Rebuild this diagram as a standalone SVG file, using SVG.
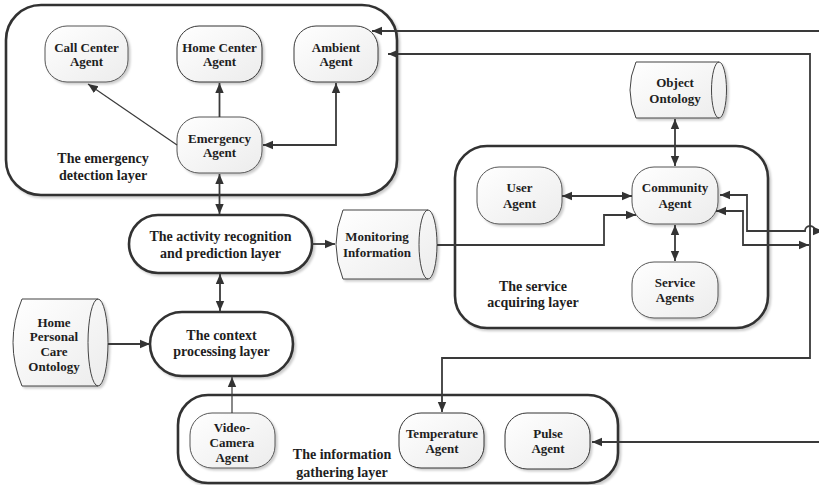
<svg xmlns="http://www.w3.org/2000/svg" width="819" height="485" viewBox="0 0 819 485">
  <style>
    .txt { font-family: "Liberation Serif", "Times New Roman", serif; font-weight: bold; fill: #1e1e1e; text-anchor: middle; }
    .agent-t { font-size: 13px; }
    .layer-t { font-size: 14px; }
    .layer { fill: #ffffff; stroke: #333333; stroke-width: 2.6; }
    .agent { fill: url(#agentFill); stroke: #555555; stroke-width: 1; filter: url(#shadow); }
    .store { fill: url(#agentFill); stroke: #444444; stroke-width: 1; filter: url(#shadow); }
    .store-line { fill: none; stroke: #444444; stroke-width: 1; }
    .conn { fill: none; stroke: #3a3a3a; stroke-width: 1.8; }
    .thin { stroke-width: 1.2; }
  </style>
  <defs>
    <linearGradient id="agentFill" x1="0" y1="0" x2="1" y2="1">
      <stop offset="0" stop-color="#ffffff"/>
      <stop offset="1" stop-color="#ececec"/>
    </linearGradient>
    <filter id="shadow" x="-10%" y="-10%" width="130%" height="130%">
      <feDropShadow dx="2" dy="2" stdDeviation="1" flood-color="#000000" flood-opacity="0.2"/>
    </filter>
    <marker id="arrow" viewBox="0 0 10 10" refX="10" refY="5" markerWidth="10" markerHeight="10" markerUnits="userSpaceOnUse" orient="auto-start-reverse">
      <path d="M0,0.8 L10,5 L0,9.2 Z" fill="#333333"/>
    </marker>
  </defs>

  <!-- layer containers -->
  <g id="emergency-layer">
    <rect class="layer" x="6" y="5" width="391" height="190" rx="35" ry="35" filter="url(#shadow)"/>
    <text class="txt layer-t" x="103" y="163">The emergency</text>
    <text class="txt layer-t" x="103" y="180">detection layer</text>
  </g>
  <g id="service-layer">
    <rect class="layer" x="455" y="146" width="313" height="182" rx="32" ry="32" filter="url(#shadow)"/>
    <text class="txt layer-t" x="533" y="291">The service</text>
    <text class="txt layer-t" x="533" y="307">acquiring layer</text>
  </g>
  <g id="information-layer">
    <rect class="layer" x="178" y="395" width="440" height="88" rx="30" ry="30" filter="url(#shadow)"/>
    <text class="txt layer-t" x="342" y="459">The information</text>
    <text class="txt layer-t" x="342" y="477">gathering layer</text>
  </g>
  <g id="activity-layer">
    <rect class="layer" x="129" y="215" width="183" height="58" rx="29" ry="29" filter="url(#shadow)"/>
    <text class="txt layer-t" x="220.5" y="241">The activity recognition</text>
    <text class="txt layer-t" x="220.5" y="258">and prediction layer</text>
  </g>
  <g id="context-layer">
    <rect class="layer" x="150" y="312" width="143" height="64" rx="32" ry="32" filter="url(#shadow)"/>
    <text class="txt layer-t" x="221.5" y="340">The context</text>
    <text class="txt layer-t" x="221.5" y="356">processing layer</text>
  </g>

  <!-- agents -->
  <g id="call-center-agent">
    <rect class="agent" x="45" y="26" width="83" height="56" rx="22" ry="22"/>
    <text class="txt agent-t" x="86.5" y="51.5">Call Center</text>
    <text class="txt agent-t" x="86.5" y="66">Agent</text>
  </g>
  <g id="home-center-agent">
    <rect class="agent" x="177" y="26" width="85" height="56" rx="22" ry="22" style="stroke:#333333"/>
    <text class="txt agent-t" x="219.5" y="51.5">Home Center</text>
    <text class="txt agent-t" x="219.5" y="66">Agent</text>
  </g>
  <g id="ambient-agent">
    <rect class="agent" x="294" y="26" width="84" height="56" rx="22" ry="22" style="stroke:#3a3a3a"/>
    <text class="txt agent-t" x="336" y="51.5">Ambient</text>
    <text class="txt agent-t" x="336" y="66">Agent</text>
  </g>
  <g id="emergency-agent">
    <rect class="agent" x="177" y="117" width="85" height="56" rx="22" ry="22"/>
    <text class="txt agent-t" x="219.5" y="142.5">Emergency</text>
    <text class="txt agent-t" x="219.5" y="157">Agent</text>
  </g>
  <g id="user-agent">
    <rect class="agent" x="477" y="167" width="85" height="57" rx="22" ry="22"/>
    <text class="txt agent-t" x="519.5" y="191.5">User</text>
    <text class="txt agent-t" x="519.5" y="207.5">Agent</text>
  </g>
  <g id="community-agent">
    <rect class="agent" x="632" y="167" width="86" height="57" rx="22" ry="22"/>
    <text class="txt agent-t" x="675" y="191.5">Community</text>
    <text class="txt agent-t" x="675" y="207.5">Agent</text>
  </g>
  <g id="service-agents">
    <rect class="agent" x="632" y="262" width="86" height="56" rx="22" ry="22"/>
    <text class="txt agent-t" x="675" y="286.5">Service</text>
    <text class="txt agent-t" x="675" y="301.5">Agents</text>
  </g>
  <g id="video-camera-agent">
    <rect class="agent" x="190" y="413" width="85" height="55" rx="22" ry="22"/>
    <text class="txt agent-t" x="232" y="431.5">Video-</text>
    <text class="txt agent-t" x="232" y="446.5">Camera</text>
    <text class="txt agent-t" x="232" y="461.5">Agent</text>
  </g>
  <g id="temperature-agent">
    <rect class="agent" x="399" y="413" width="85" height="55" rx="22" ry="22" style="stroke:#333333"/>
    <text class="txt agent-t" x="442" y="437.5">Temperature</text>
    <text class="txt agent-t" x="442" y="452.5">Agent</text>
  </g>
  <g id="pulse-agent">
    <rect class="agent" x="505" y="413" width="85" height="56" rx="22" ry="22" style="stroke:#333333"/>
    <text class="txt agent-t" x="548" y="437.5">Pulse</text>
    <text class="txt agent-t" x="548" y="452.5">Agent</text>
  </g>

  <!-- stored data shapes -->
  <g id="object-ontology">
    <path class="store" d="M636,62 H719 A7.5,28 0 0 1 719,118 H636 Q624,90 636,62 Z"/>
    <path class="store-line" d="M719,62 A7.5,28 0 0 0 719,118"/>
    <text class="txt agent-t" x="675" y="86.5">Object</text>
    <text class="txt agent-t" x="675" y="102.5">Ontology</text>
  </g>
  <g id="monitoring-information">
    <path class="store" d="M343,210 H428 A9,34.5 0 0 1 428,279 H343 Q329,244.5 343,210 Z"/>
    <path class="store-line" d="M428,210 A9,34.5 0 0 0 428,279"/>
    <text class="txt agent-t" x="377" y="241">Monitoring</text>
    <text class="txt agent-t" x="377" y="257">Information</text>
  </g>
  <g id="home-personal-care-ontology">
    <path class="store" d="M22,299 H98 A10,43.5 0 0 1 98,386 H22 Q4,342.5 22,299 Z"/>
    <path class="store-line" d="M98,299 A10,43.5 0 0 0 98,386"/>
    <text class="txt agent-t" x="54" y="326.5">Home</text>
    <text class="txt agent-t" x="54" y="341">Personal</text>
    <text class="txt agent-t" x="54" y="355.5">Care</text>
    <text class="txt agent-t" x="54" y="370.5">Ontology</text>
  </g>

  <!-- connectors -->
  <g id="connectors">
    <path class="conn thin" d="M177,145 L88,84" marker-end="url(#arrow)"/>
    <path class="conn" d="M219.5,117 V83" marker-end="url(#arrow)"/>
    <path class="conn" d="M263,145 H336 V83" marker-start="url(#arrow)" marker-end="url(#arrow)"/>
    <path class="conn" d="M219.5,174 V214" marker-start="url(#arrow)" marker-end="url(#arrow)"/>
    <path class="conn" d="M220,274 V311" marker-start="url(#arrow)" marker-end="url(#arrow)"/>
    <path class="conn" d="M312,244 H335" marker-end="url(#arrow)"/>
    <path class="conn" d="M108,344 H150" marker-end="url(#arrow)"/>
    <path class="conn thin" d="M232,413 V377" marker-end="url(#arrow)"/>
    <path class="conn" d="M437,245 H604 V215 H636" marker-end="url(#arrow)"/>
    <path class="conn" d="M562,196 H632" marker-start="url(#arrow)" marker-end="url(#arrow)"/>
    <path class="conn" d="M675,119 V166" marker-start="url(#arrow)" marker-end="url(#arrow)"/>
    <path class="conn" d="M675,225 V261" marker-start="url(#arrow)" marker-end="url(#arrow)"/>
    <path class="conn" d="M819,31 H372" marker-end="url(#arrow)"/>
    <path class="conn" d="M388,54 H810 V358 H442 V412" marker-start="url(#arrow)" marker-end="url(#arrow)"/>
    <path class="conn" d="M716,211 H743 V245 H809" marker-start="url(#arrow)" marker-end="url(#arrow)"/>
    <path class="conn" d="M720,195 H747 V231 H805 A5,5 0 0 1 815,231 H823" marker-start="url(#arrow)" marker-end="url(#arrow)"/>
    <path class="conn" d="M819,442 H592" marker-end="url(#arrow)"/>
  </g>
</svg>
